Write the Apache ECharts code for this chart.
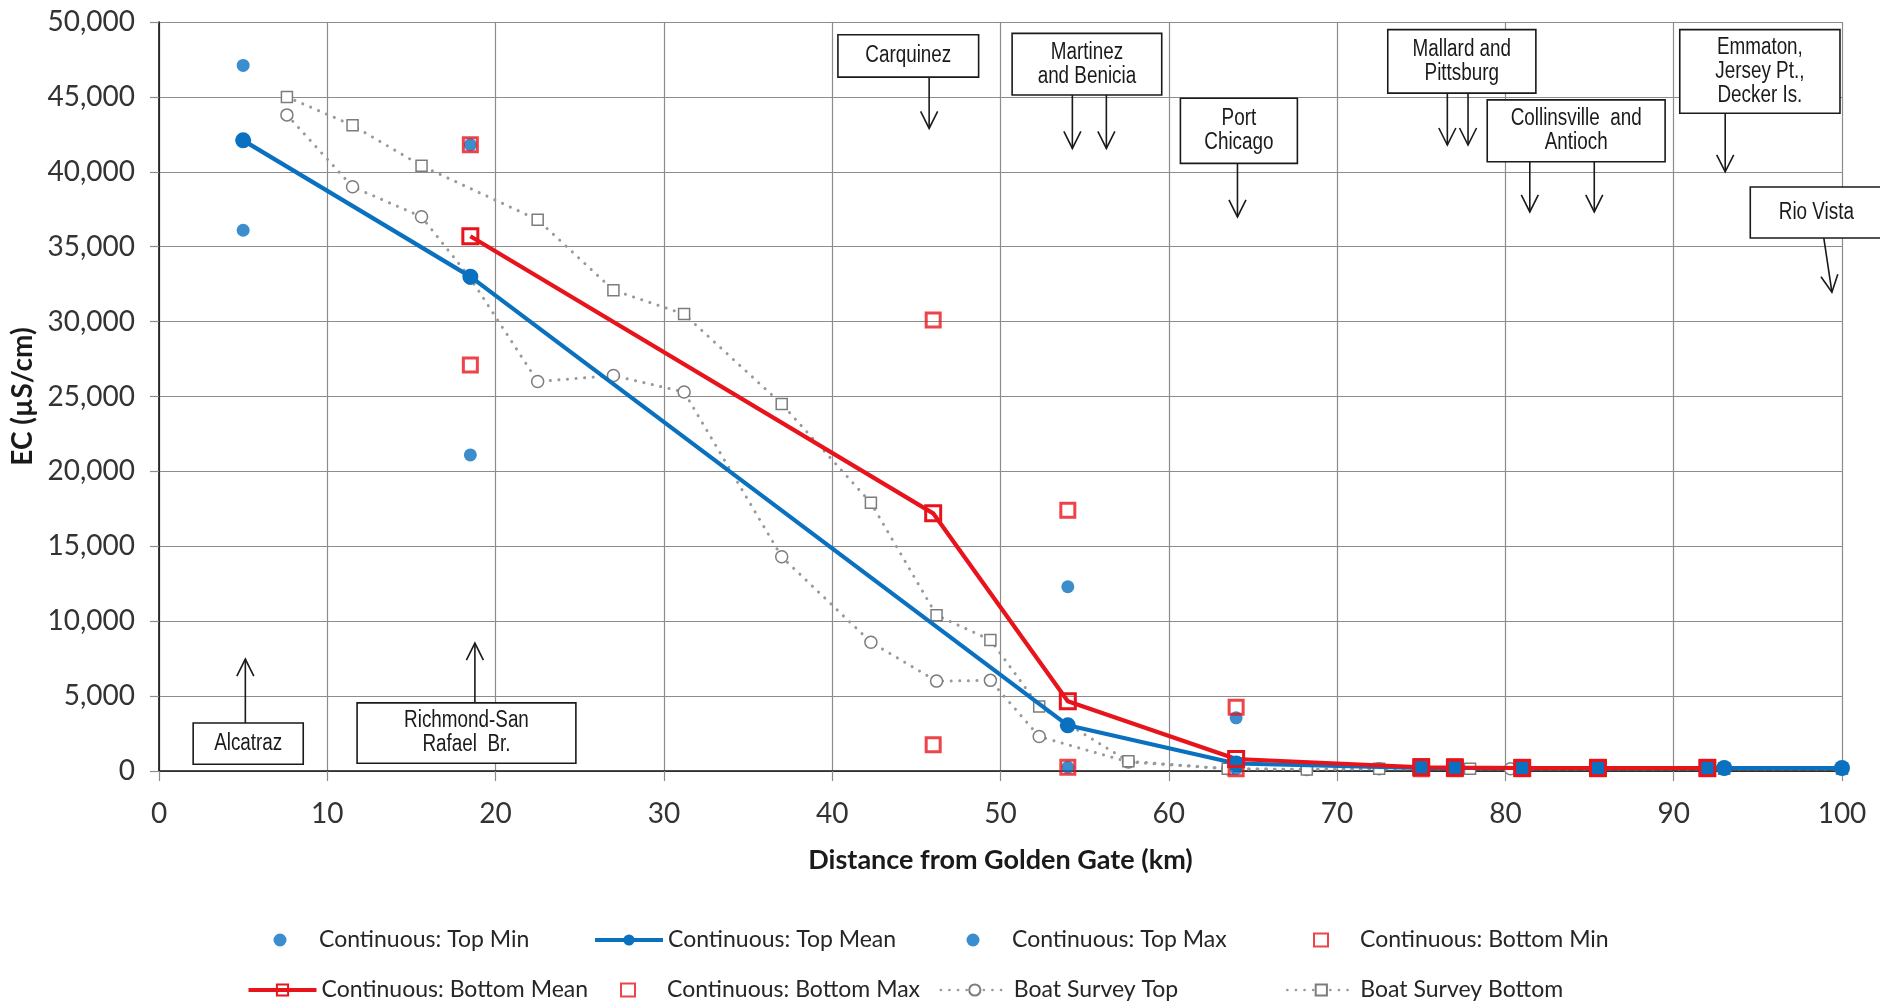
<!DOCTYPE html>
<html>
<head>
<meta charset="utf-8">
<script src="https://cdn.jsdelivr.net/npm/echarts@6/dist/echarts.min.js"></script>
<style>
  html, body { margin: 0; padding: 0; background: #ffffff; }
  #chart { width: 1880px; height: 1003px; }
</style>
</head>
<body>
<div id="chart"></div>
<script>
// Continuous monitoring stations, surface sensors (distance in km, EC in µS/cm)
const topKm     = [5, 18.5, 54, 64, 75, 77, 81, 85.5, 92, 93, 100];
const topMinEC  = [36100, 21100, 250, 150, 150, 150, 150, 150, 150, 150, 150];
const topMeanEC = [42100, 33000, 3050, 500, 200, 200, 200, 200, 200, 200, 200];
const topMaxEC  = [47100, 41800, 12300, 3550, 250, 250, 250, 250, 250, 250, 250];

// Continuous monitoring stations, bottom sensors
const bottomKm     = [18.5, 46, 54, 64, 75, 77, 81, 85.5, 92];
const bottomMinEC  = [27100, 1750, 250, 150, 150, 150, 150, 150, 150];
const bottomMeanEC = [35700, 17200, 4650, 800, 250, 220, 200, 200, 200];
const bottomMaxEC  = [41800, 30100, 17400, 4250, 300, 300, 250, 250, 250];

// Boat survey transect
const boatTopKm    = [7.6, 11.5, 15.6, 18.5, 22.5, 27, 31.2, 37, 42.3, 46.2, 49.4, 52.3, 57.6, 63.5, 68.2, 72.5, 80.3, 93, 100];
const boatTopEC    = [43800, 39000, 37000, 32900, 26000, 26400, 25300, 14300, 8600, 6000, 6050, 2300, 600, 150, 100, 150, 150, 150, 150];
const boatBottomKm = [7.6, 11.5, 15.6, 22.5, 27, 31.2, 37, 42.3, 46.2, 49.4, 52.3, 57.6, 63.5, 68.2, 72.5, 77.9, 93, 100];
const boatBottomEC = [45000, 43100, 40400, 36800, 32100, 30500, 24500, 17900, 10400, 8750, 4300, 650, 150, 100, 150, 150, 150, 150];

const seriesNames = [
  'Continuous: Top Min', 'Continuous: Top Mean', 'Continuous: Top Max', 'Continuous: Bottom Min',
  'Continuous: Bottom Mean', 'Continuous: Bottom Max', 'Boat Survey Top', 'Boat Survey Bottom'
];

// Axis ticks
const xTicks = { min: 0, max: 100, step: 10 };
const yTicks = { min: 0, max: 50000, step: 5000 };

// Station call-outs: label, box extent [leftKm, rightKm, topEC, bottomEC], arrows [fromKm, fromEC, toKm, toEC]
const siteNames = [
  'Alcatraz', 'Richmond-San\nRafael  Br.', 'Carquinez', 'Martinez\nand Benicia', 'Port\nChicago',
  'Mallard and\nPittsburg', 'Collinsville  and\nAntioch', 'Emmaton,\nJersey Pt.,\nDecker Is.', 'Rio Vista'
];
const siteBoxes = [
  [2.03, 8.57, 3200, 450],
  [11.77, 24.77, 4550, 520],
  [40.34, 48.7, 49150, 46320],
  [50.69, 59.58, 49240, 45130],
  [60.69, 67.64, 44910, 40560],
  [73.01, 81.81, 49490, 45250],
  [78.92, 89.49, 44800, 40670],
  [90.36, 99.88, 49490, 43910],
  [94.55, 102.4, 38990, 35580]
];
const siteArrows = [
  [[5.13, 3200, 5.13, 7470]],
  [[18.77, 4550, 18.77, 8540]],
  [[45.76, 46320, 45.76, 42900]],
  [[54.27, 45130, 54.27, 41560], [56.29, 45130, 56.29, 41560]],
  [[64.08, 40560, 64.08, 36990]],
  [[76.55, 45250, 76.55, 41790], [77.78, 45250, 77.78, 41790]],
  [[81.45, 40670, 81.45, 37320], [85.28, 40670, 85.28, 37320]],
  [[93.06, 43910, 93.06, 40000]],
  [[98.92, 35580, 99.4, 31960]]
];

const BLUE = '#0a70c0';
const RED = '#e8141c';
const GREY_LINE = '#999999';
const GREY_MARK = '#7c7c7c';
const UI_FONT = 'Lato, "Open Sans", sans-serif';
const NOTE_FONT = '"Liberation Sans", Arial, sans-serif';

const pairs = (xs, ys) => xs.map((x, i) => [x, ys[i]]);

const chart = echarts.init(document.getElementById('chart'), null, { renderer: 'canvas' });

const dotStyle = { color: BLUE };
const hollowSquare = { color: 'rgba(0,0,0,0)', borderColor: RED, borderWidth: 3 };
const dottedLine = { color: GREY_LINE, width: 3, type: [0.1, 8.5], cap: 'round' };
const boatMark = { color: '#ffffff', borderColor: GREY_MARK, borderWidth: 1.5 };

// Legend: four columns, two rows; each entry is its own legend so the columns line up
const legendColLeft = [246.5, 593, 939.5, 1286];
const legendRowTop = [926, 976];
const legendText = { fontFamily: UI_FONT, fontSize: 23, color: '#262626', lineHeight: 28 };
const legendLineWidth = { 1: 4, 4: 4, 6: 2.6, 7: 2.6 };
const legends = seriesNames.map((name, i) => {
  const left = legendColLeft[i % 4];
  const top = legendRowTop[Math.floor(i / 4)];
  if (legendLineWidth[i] !== undefined) {
    return {
      data: [name], left: left, top: top, padding: 0,
      itemWidth: 68, itemHeight: 14, textStyle: legendText,
      lineStyle: { width: legendLineWidth[i] }
    };
  }
  // marker-only entries: small icon centred in the 68px icon slot
  return {
    data: [name], left: left + 27, top: top, padding: 0,
    itemWidth: 14, itemHeight: 13,
    textStyle: Object.assign({ padding: [0, 0, 0, 27] }, legendText)
  };
});

chart.setOption({
  animation: false,
  backgroundColor: '#ffffff',
  grid: { left: 159, right: 38, top: 22, bottom: 232 },
  xAxis: [{
    type: 'value', min: xTicks.min, max: xTicks.max, interval: xTicks.step,
    name: 'Distance from Golden Gate (km)', nameLocation: 'middle', nameGap: 76,
    nameTextStyle: { fontFamily: UI_FONT, fontWeight: 'bold', fontSize: 27, color: '#1a1a1a' },
    axisLine: { lineStyle: { color: '#8c8c8c', width: 1.2 } },
    axisTick: { show: true, inside: false, length: 10, lineStyle: { color: '#8c8c8c', width: 1.2 } },
    axisLabel: { margin: 29, fontFamily: UI_FONT, fontSize: 28, color: '#333333' },
    splitLine: { show: true, lineStyle: { color: '#8c8c8c', width: 1.2 } }
  }, {
    type: 'value', position: 'top', min: xTicks.min, max: xTicks.max,
    axisLine: { show: true, lineStyle: { color: '#111111', width: 1.6 } },
    axisTick: { show: false }, axisLabel: { show: false }, splitLine: { show: false }
  }],
  yAxis: [{
    type: 'value', min: yTicks.min, max: yTicks.max, interval: yTicks.step,
    name: 'EC (µS/cm)', nameLocation: 'middle', nameGap: 121,
    nameTextStyle: { fontFamily: UI_FONT, fontWeight: 'bold', fontSize: 28, color: '#1a1a1a' },
    axisLine: { show: true, lineStyle: { color: '#8c8c8c', width: 1.2 } },
    axisTick: { show: true, inside: false, length: 9, lineStyle: { color: '#8c8c8c', width: 1.2 } },
    axisLabel: { margin: 24, fontFamily: UI_FONT, fontSize: 28, color: '#333333',
      formatter: v => v.toLocaleString('en-US') },
    splitLine: { show: true, lineStyle: { color: '#8c8c8c', width: 1.2 } }
  }, {
    type: 'value', position: 'right', min: yTicks.min, max: yTicks.max,
    axisLine: { show: true, lineStyle: { color: '#111111', width: 1.6 } },
    axisTick: { show: false }, axisLabel: { show: false }, splitLine: { show: false }
  }],
  legend: legends,
  series: [
    {
      name: seriesNames[0], type: 'scatter', data: pairs(topKm, topMinEC),
      symbol: 'circle', symbolSize: 13, itemStyle: dotStyle, clip: false
    },
    {
      name: seriesNames[1], type: 'line', data: pairs(topKm, topMeanEC),
      symbol: 'circle', symbolSize: 16, showAllSymbol: true, clip: false,
      lineStyle: { color: BLUE, width: 4.2 }, itemStyle: { color: BLUE }
    },
    {
      name: seriesNames[2], type: 'scatter', data: pairs(topKm, topMaxEC),
      symbol: 'circle', symbolSize: 13, itemStyle: dotStyle, clip: false
    },
    {
      name: seriesNames[3], type: 'scatter', data: pairs(bottomKm, bottomMinEC),
      symbol: 'rect', symbolSize: 14, itemStyle: hollowSquare, clip: false
    },
    {
      name: seriesNames[4], type: 'line', data: pairs(bottomKm, bottomMeanEC),
      symbol: 'rect', symbolSize: 15, showAllSymbol: true, clip: false,
      lineStyle: { color: RED, width: 4.2 },
      itemStyle: { color: 'rgba(0,0,0,0)', borderColor: RED, borderWidth: 3 }
    },
    {
      name: seriesNames[5], type: 'scatter', data: pairs(bottomKm, bottomMaxEC),
      symbol: 'rect', symbolSize: 14, itemStyle: hollowSquare, clip: false
    },
    {
      name: seriesNames[6], type: 'line', z: 1, data: pairs(boatTopKm, boatTopEC),
      symbol: 'circle', symbolSize: 12, showAllSymbol: true, clip: false,
      lineStyle: dottedLine, itemStyle: boatMark
    },
    {
      name: seriesNames[7], type: 'line', z: 1, data: pairs(boatBottomKm, boatBottomEC),
      symbol: 'rect', symbolSize: 11, showAllSymbol: true, clip: false,
      lineStyle: dottedLine, itemStyle: boatMark
    }
  ]
});

// Station call-out boxes and arrows, placed through the chart's own axes
function toPx(km, ec) {
  return chart.convertToPixel({ xAxisIndex: 0, yAxisIndex: 0 }, [km, ec]);
}

function arrowGraphics(a) {
  const p0 = toPx(a[0], a[1]);
  const p1 = toPx(a[2], a[3]);
  const dx = p1[0] - p0[0], dy = p1[1] - p0[1];
  const len = Math.hypot(dx, dy);
  const ux = dx / len, uy = dy / len;
  const nx = -uy, ny = ux;
  const headL = 17, headW = 8.5;
  const left = [p1[0] - ux * headL + nx * headW, p1[1] - uy * headL + ny * headW];
  const right = [p1[0] - ux * headL - nx * headW, p1[1] - uy * headL - ny * headW];
  const stroke = { stroke: '#1a1a1a', lineWidth: 1.6, fill: null };
  return [
    { type: 'line', z: 100, shape: { x1: p0[0], y1: p0[1], x2: p1[0], y2: p1[1] }, style: stroke },
    { type: 'polyline', z: 100, shape: { points: [left, p1, right] }, style: stroke }
  ];
}

const notes = [];
siteNames.forEach((label, i) => {
  const b = siteBoxes[i];
  const tl = toPx(b[0], b[2]);
  const br = toPx(b[1], b[3]);
  notes.push({
    type: 'rect', z: 101,
    shape: { x: tl[0], y: tl[1], width: br[0] - tl[0], height: br[1] - tl[1] },
    style: { fill: '#ffffff', stroke: '#1a1a1a', lineWidth: 1.6 }
  });
  // narrow lettering: regular face squeezed horizontally about the box centre
  notes.push({
    type: 'text', z: 102,
    x: (tl[0] + br[0]) / 2, y: (tl[1] + br[1]) / 2, scaleX: 0.82,
    style: {
      text: label, fill: '#1a1a1a', fontFamily: NOTE_FONT, fontSize: 23, lineHeight: 24,
      align: 'center', verticalAlign: 'middle'
    }
  });
  siteArrows[i].forEach(a => notes.push(...arrowGraphics(a)));
});

chart.setOption({ graphic: { elements: notes } });
</script>
</body>
</html>
